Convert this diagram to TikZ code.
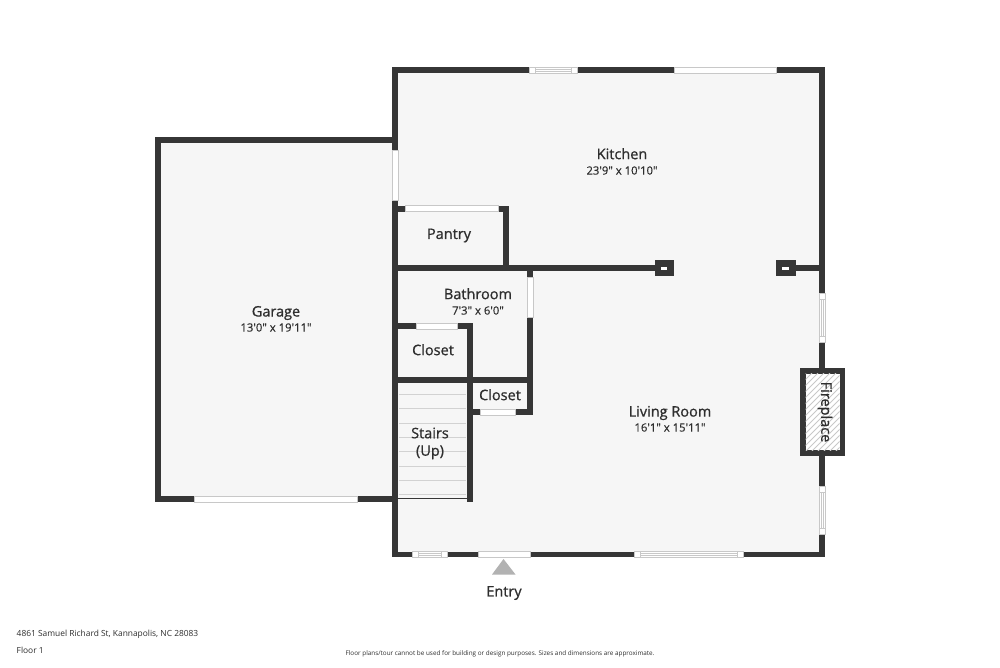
\documentclass[tikz,border=0pt]{standalone}
\usepackage{fontspec}
\newfontfamily\labfont[FakeBold=0.9]{Open Sans}
\newfontfamily\subfont[FakeBold=0.3]{Open Sans}
\newfontfamily\plainfont{Open Sans}
\definecolor{wallc}{HTML}{363636}
\definecolor{floorc}{HTML}{F6F6F6}
\definecolor{edgec}{HTML}{C8C8C8}
\definecolor{stairc}{HTML}{D2D2D2}
\definecolor{textc}{HTML}{2E2E2E}
\tikzset{
  wall/.style={fill=wallc,draw=none},
  floorarea/.style={fill=floorc,draw=none},
  doorgap/.style={fill=white,draw=edgec,line width=0.5pt},
  wingap/.style={fill=white,draw=edgec,line width=0.6pt},
  winline/.style={draw=edgec,line width=0.6pt},
  stairline/.style={draw=stairc,line width=0.8pt},
  roomname/.style={font=\labfont\fontsize{14.5}{17}\selectfont,text=textc,inner sep=0pt},
  roomsize/.style={font=\subfont\fontsize{11.3}{14}\selectfont,text=textc,inner sep=0pt},
  footnote/.style={font=\plainfont\fontsize{8.4}{10}\selectfont,text=textc,inner sep=0pt,anchor=west},
}
\newcommand{\wallbox}[4]{\path[wall] (#1,#2) rectangle (#3,#4);}
\newcommand{\doorbox}[4]{\path[doorgap] (#1,#2) rectangle (#3,#4);}
\newcommand{\hwin}[4]{%
  \path[wingap] (#1,#2) rectangle (#3,#4);
  \draw[winline] ({#1+6},#2) -- ({#1+6},#4);
  \draw[winline] ({#3-6},#2) -- ({#3-6},#4);
  \draw[winline] ({#1+6},{(#2+#4)/2-1}) -- ({#3-6},{(#2+#4)/2-1});
  \draw[winline] ({#1+6},{(#2+#4)/2+1}) -- ({#3-6},{(#2+#4)/2+1});}
\newcommand{\vwin}[4]{%
  \path[wingap] (#1,#2) rectangle (#3,#4);
  \draw[winline] (#1,{#2+6}) -- (#3,{#2+6});
  \draw[winline] (#1,{#4-6}) -- (#3,{#4-6});
  \draw[winline] ({(#1+#3)/2-1},{#2+6}) -- ({(#1+#3)/2-1},{#4-6});
  \draw[winline] ({(#1+#3)/2+1},{#2+6}) -- ({(#1+#3)/2+1},{#4-6});}
\begin{document}
\begin{tikzpicture}[x=1pt,y=-1pt]
\useasboundingbox[fill=white] (0,0) rectangle (1000,667);
% floors
\path[floorarea] (392,67) rectangle (825,557);
\path[floorarea] (155,137) rectangle (392,502);
% outer walls, main block
\wallbox{392}{67}{529}{73}
\wallbox{577}{67}{674}{73}
\wallbox{776}{67}{825}{73}
\wallbox{819}{67}{825}{293}
\wallbox{819}{342}{825}{368}
\wallbox{819}{456}{825}{486}
\wallbox{819}{534}{825}{557}
\wallbox{392}{67}{398}{150}
\wallbox{392}{200}{398}{557}
\wallbox{392}{551.5}{412.5}{557}
\wallbox{447.5}{551.5}{478.5}{557}
\wallbox{530}{551.5}{634.5}{557}
\wallbox{743}{551.5}{825}{557}
% garage
\wallbox{155}{137}{161}{502}
\wallbox{155}{137}{392}{143}
\wallbox{155}{496}{194}{502}
\wallbox{357}{496}{392}{502}
% pantry
\wallbox{398}{205.5}{405.5}{211.5}
\wallbox{498}{205.5}{509}{211.5}
\wallbox{503}{205.5}{509}{266}
% mid wall
\wallbox{392}{265}{660}{271}
\wallbox{527}{271}{533}{277}
\wallbox{527}{317}{533}{415}
% closets
\wallbox{398}{323}{416}{329}
\wallbox{457.5}{323}{472.5}{329}
\wallbox{466.5}{323}{472.5}{502}
\wallbox{392}{376.5}{533}{382.5}
\wallbox{466.5}{409}{480}{415}
\wallbox{515}{409}{533}{415}
% columns
\wallbox{655}{260}{673.5}{276}
\wallbox{776}{260}{795.5}{276}
\wallbox{795}{265}{819}{271}
\path[fill=white] (660.5,266.5) rectangle (667,270);
\path[fill=white] (782,266.5) rectangle (788.5,270);
% doors
\doorbox{674}{67.5}{776}{73}
\doorbox{392.5}{150}{398}{200}
\doorbox{405.5}{205.5}{498}{211.5}
\doorbox{527.5}{277}{533}{317}
\doorbox{416}{323.5}{457.5}{329}
\doorbox{480}{409.5}{515}{415}
\doorbox{194}{496.5}{357}{502}
\doorbox{478.5}{551.5}{530}{557}
% windows
\hwin{529}{67.5}{577}{73}
\hwin{412.5}{551.5}{447.5}{557}
\hwin{634.5}{551.5}{743}{557}
\vwin{819.5}{293}{825}{342}
\vwin{819.5}{486}{825}{534}
% stairs
\foreach \yy in {394.3,408.6,423,437.3,451.7,466,480.3,494.7}
  \draw[stairline] (399,\yy) -- (465.5,\yy);
\draw[wallc,line width=0.9pt] (398,498.5) -- (466.5,498.5);
% fireplace
\wallbox{800}{367.5}{845}{456}
\path[fill=white] (805.5,373.5) rectangle (839.5,450);
\begin{scope}
\clip (805.5,373.5) rectangle (839.5,450);
\foreach \k in {0,1,...,24}
  \draw[edgec,line width=0.8pt] ({800+\k*6},373) -- ({800+\k*6-80},453);
\end{scope}
% triangle
\path[fill=black!30] (503.5,559) -- (515.5,574.5) -- (492,574.5) -- cycle;
% labels
\node[roomname] (kitchen) at (622,153.7) {Kitchen};
\node[roomsize] (kitchens) at (622,170.5) {23'9" x 10'10"};
\node[roomname] (pantry) at (449,235.5) {Pantry};
\node[roomname] (garage) at (276,313) {Garage};
\node[roomsize] (garages) at (276,327.5) {13'0" x 19'11"};
\node[roomname] (bath) at (478,293.7) {Bathroom};
\node[roomsize] (baths) at (478,310.5) {7'3" x 6'0"};
\node[roomname] (closeta) at (433,349.7) {Closet};
\node[roomname] (closetb) at (500,394.7) {Closet};
\node[roomname] (stairs) at (430,433) {Stairs};
\node[roomname] (up) at (430,452.3) {(Up)};
\node[roomname] (living) at (670,413) {Living Room};
\node[roomsize] (livings) at (670,427.5) {16'1" x 15'11"};
\node[roomname,rotate=-90] (fire) at (825,412) {Fireplace};
\node[roomname] (entry) at (504,593) {Entry};
\node[footnote] (addr) at (16.5,634.5) {4861 Samuel Richard St, Kannapolis, NC 28083};
\node[footnote] (floor) at (16.5,650.8) {Floor 1};
\node[font=\plainfont\fontsize{6.35}{8}\selectfont,text=textc,inner sep=0pt] (note) at (500,654) {Floor plans/tour cannot be used for building or design purposes. Sizes and dimensions are approximate.};
\end{tikzpicture}
\end{document}
